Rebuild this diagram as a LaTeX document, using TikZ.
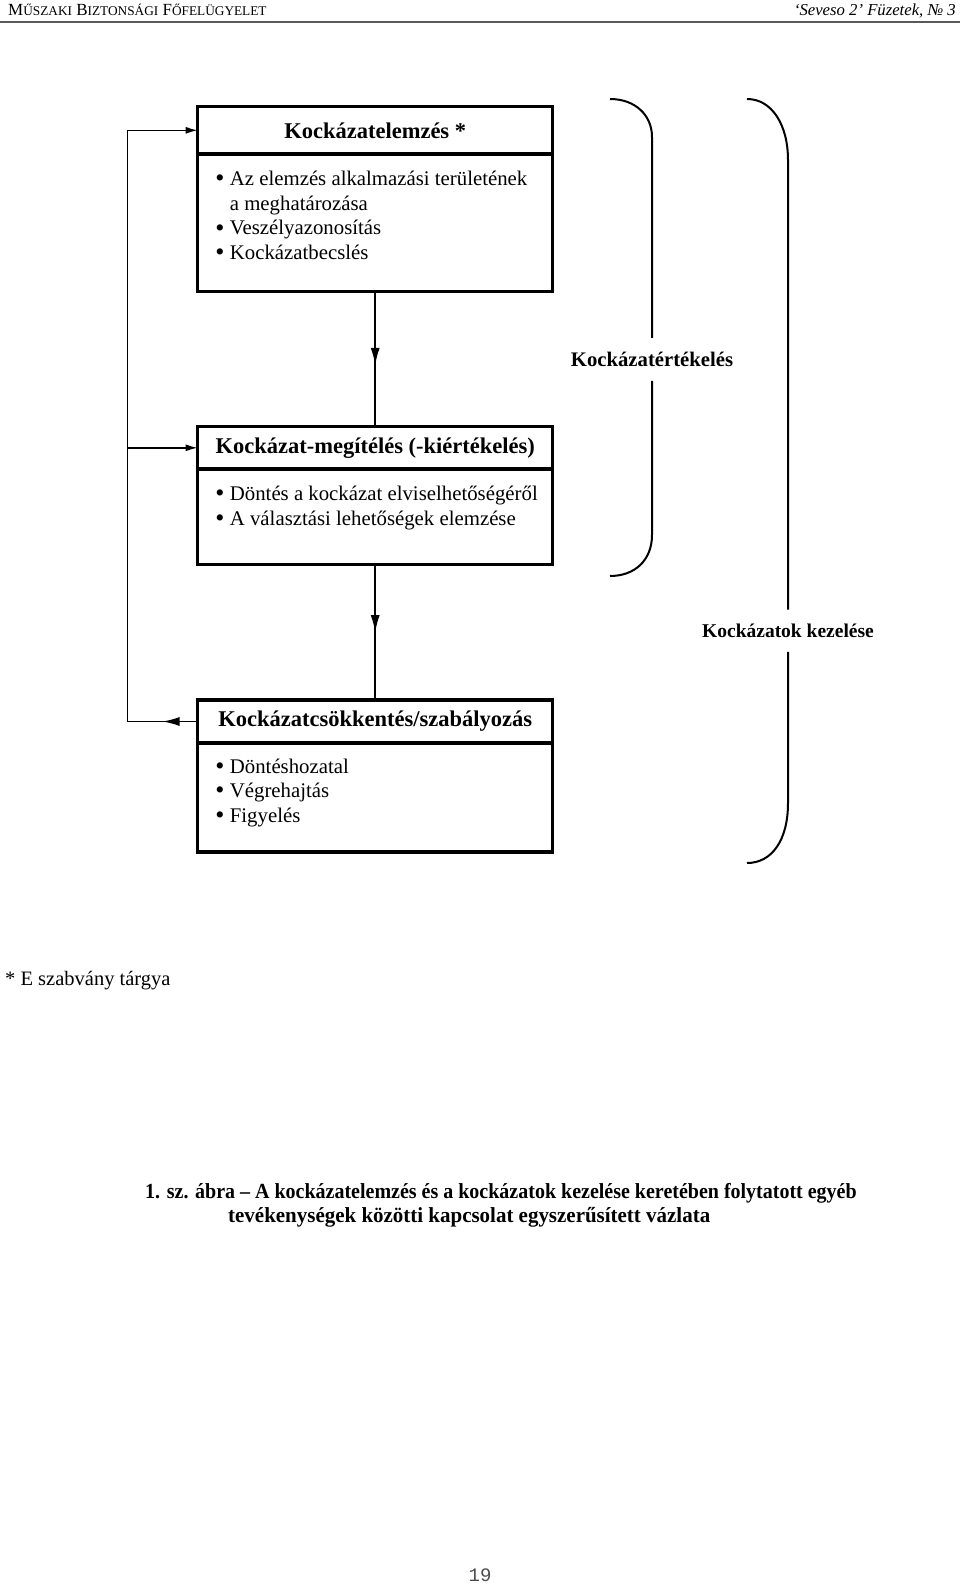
\documentclass[tikz,border=0pt]{standalone}
\usepackage{fontspec}
\setmainfont{Liberation Serif}
\setmonofont{Liberation Mono}
\newfontfamily\capfont[FakeStretch=0.93]{Liberation Serif}
\newfontfamily\capfontb[FakeStretch=0.975]{Liberation Serif}
\usetikzlibrary{arrows.meta,decorations.markings,positioning}
\newcommand{\hsc}[1]{{\fontsize{13.3}{13}\selectfont #1}}
\newcommand{\pont}{\makebox[14.5pt][l]{\raisebox{-1.2pt}{\fontsize{26}{26}\selectfont\textbullet}}}

\begin{document}
\begin{tikzpicture}[x=1pt,y=-1pt,
  box/.style={draw,line width=3.3pt,outer sep=0pt,minimum width=355pt},
  titletxt/.style={font=\fontsize{22.5}{26}\selectfont\bfseries},
  bodytxt/.style={align=left,inner sep=0pt,font=\fontsize{20.8}{24.6}\selectfont},
  conn/.style={line width=1.5pt},
  arr/.style={-{Latex[length=12pt,width=7pt]}},
  midarr/.style={postaction={decorate},decoration={markings,
    mark=at position #1 with {\arrow{Latex[length=17pt,width=9pt]}}}},
  zarojel/.style={line width=2pt},
  zarotxt/.style={font=\fontsize{#1}{22}\selectfont\bfseries,inner ysep=14pt,inner xsep=0pt}]
\useasboundingbox (0,0) rectangle (960,1585);

% fejlec
\node[anchor=base west,inner sep=0pt,font=\fontsize{17}{17}\selectfont] (fejBal) at (8,15)
  {M\hsc{ŰSZAKI} B\hsc{IZTONSÁGI} F\hsc{ŐFELÜGYELET}};
\node[anchor=base east,inner sep=0pt,font=\fontsize{16.7}{17}\selectfont\itshape] (fejJobb) at (956,15)
  {‘Seveso 2’ Füzetek, № 3};
\draw[line width=2pt,black!65] (0,21.5) -- (960,21.5);

% dobozok
\node[box,titletxt,minimum height=47.3pt] (elemzes) at (375.2,130.3) {Kockázatelemzés *};
\node[box,minimum height=137.7pt,below=0pt of elemzes] (elemzesBody) {};
\node[bodytxt,below right=17pt and 17.5pt of elemzesBody.north west] (elemzesList)
  {\pont Az elemzés alkalmazási területének\\
   \hspace*{14.5pt}a meghatározása\\
   \pont Veszélyazonosítás\\
   \pont Kockázatbecslés};

\node[box,titletxt,minimum height=42.3pt] (megiteles) at (375.2,447.8) {Kockázat-megítélés (-kiértékelés)};
\node[box,minimum height=95.5pt,below=0pt of megiteles] (megitelesBody) {};
\node[bodytxt,below right=17pt and 17.5pt of megitelesBody.north west] (megitelesList)
  {\pont Döntés a kockázat elviselhetőségéről\\
   \pont A választási lehetőségek elemzése};

\node[box,titletxt,minimum height=43pt] (csokk) at (375.2,721.5) {Kockázatcsökkentés/szabályozás};
\node[box,minimum height=109pt,below=0pt of csokk] (csokkBody) {};
\node[bodytxt,below right=15.5pt and 17.5pt of csokkBody.north west] (csokkList)
  {\pont Döntéshozatal\\
   \pont Végrehajtás\\
   \pont Figyelés};

% nyilak
\draw[conn,midarr=0.543] (elemzesBody.south) -- (megiteles.north);
\draw[conn,midarr=0.5] (megitelesBody.south) -- (csokk.north);
\coordinate[left=70.4pt of csokk.west] (vissza);
\draw[conn,midarr=0.5] (csokk.west) -- (vissza);
\draw[conn,arr] (vissza) |- (elemzes.west);
\draw[conn,arr] (vissza |- megiteles.west) -- (megiteles.west);

% zarojelek
\node[zarotxt=20.7] (ertekeles) at (652,359.3) {Kockázatértékelés};
\node[zarotxt=19.5] (kezeles) at (788,630.7) {Kockázatok kezelése};
\draw[zarojel] (610,99) .. controls (635,99) and (652,115) .. (652,137) -- (ertekeles.north);
\draw[zarojel] (ertekeles.south) -- (652,535) .. controls (652,560) and (635,576) .. (610,576);
\draw[zarojel] (747,99) .. controls (772,99) and (788,125) .. (788,160) -- (kezeles.north);
\draw[zarojel] (kezeles.south) -- (788,803) .. controls (788,840) and (772,863) .. (747,863);

% szovegek
\node[anchor=base west,inner sep=0pt,font=\fontsize{20.5}{22}\selectfont] (jegyzet) at (5,985) {* E szabvány tárgya};
\node[anchor=base west,inner sep=0pt,font=\capfont\bfseries\fontsize{21.5}{22}\selectfont] (abra1) at (145,1198)
  {1. sz. ábra – A kockázatelemzés és a kockázatok kezelése keretében folytatott egyéb};
\node[anchor=base west,inner sep=0pt,font=\capfontb\bfseries\fontsize{21.5}{22}\selectfont] (abra2) at (228,1222)
  {tevékenységek közötti kapcsolat egyszerűsített vázlata};
\node[font=\ttfamily\fontsize{19}{19}\selectfont,text=black!70] (oldal) at (480,1575) {19};
\end{tikzpicture}
\end{document}
